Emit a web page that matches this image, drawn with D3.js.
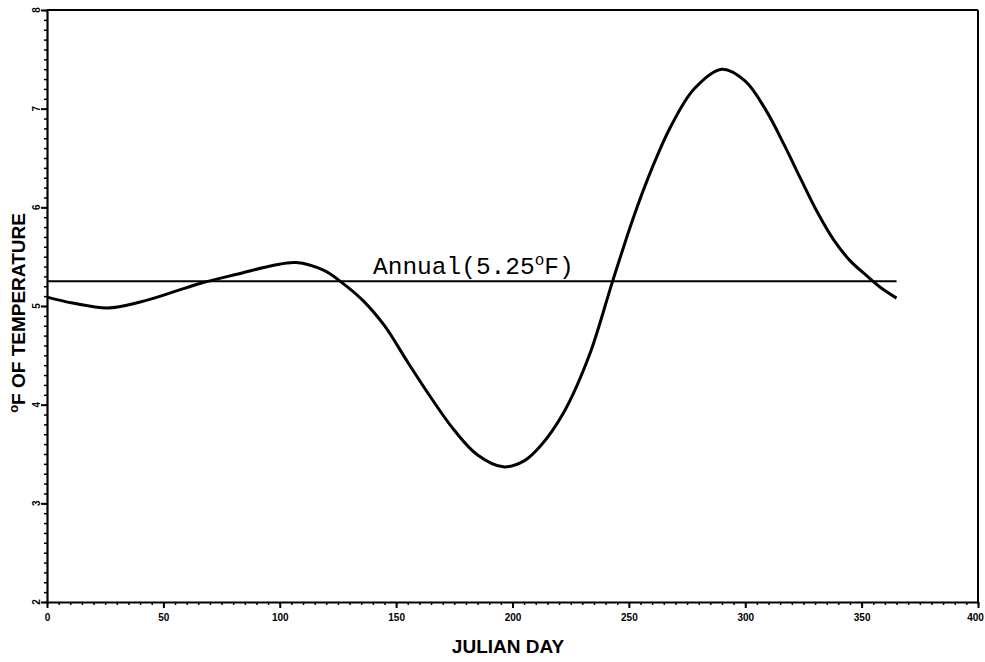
<!DOCTYPE html>
<html>
<head>
<meta charset="utf-8">
<script src="https://cdn.jsdelivr.net/npm/d3@7"></script>
<style>
  body { margin: 0; background: #fff; }
  svg { display: block; }
</style>
</head>
<body>
<div id="svgzone"></div>
<script>
// data
let days = [0, 11, 26, 40, 54, 66, 83, 97, 107, 119, 126, 136, 145, 155, 165, 175, 185, 196, 205, 212, 222, 233, 243, 252, 260, 268, 278, 290, 300, 309, 317, 324, 331, 338, 345, 352, 358, 365];
let temps = [5.09, 5.03, 4.98, 5.04, 5.14, 5.23, 5.33, 5.41, 5.44, 5.36, 5.25, 5.05, 4.80, 4.43, 4.07, 3.74, 3.49, 3.37, 3.43, 3.58, 3.92, 4.50, 5.25, 5.90, 6.40, 6.82, 7.20, 7.40, 7.28, 6.98, 6.62, 6.28, 5.95, 5.67, 5.46, 5.31, 5.19, 5.08];
let annualMean = 5.25;
let annualSpan = [0, 365];
let xTicks = [0, 50, 100, 150, 200, 250, 300, 350, 400];
let yTicks = [2, 3, 4, 5, 6, 7, 8];

// dimensions and margins
let margin = { top: 10, right: 7, bottom: 60, left: 47 },
    width = 985 - margin.left - margin.right,
    height = 662 - margin.top - margin.bottom;

let svg = d3.select("#svgzone")
    .append("svg")
    .attr("width", width + margin.left + margin.right)
    .attr("height", height + margin.top + margin.bottom)
    .append("g")
    .attr("transform", "translate(" + margin.left + "," + margin.top + ")");

let x = d3.scaleLinear().domain([0, 400]).range([0, width]);
let y = d3.scaleLinear().domain([2, 8]).range([height, 0]);

// minor ticks
svg.append("g")
    .attr("transform", "translate(0," + height + ")")
    .call(d3.axisBottom(x).tickValues(d3.range(0, 401, 5)).tickSize(3).tickFormat(""))
    .call(g => g.select(".domain").remove())
    .selectAll("line").attr("stroke-width", 1.5);
svg.append("g")
    .call(d3.axisLeft(y).tickValues(d3.range(20, 81, 1).map(d => d / 10)).tickSize(3).tickFormat(""))
    .call(g => g.select(".domain").remove())
    .selectAll("line").attr("stroke-width", 1.5);

// x axis
let xAxis = svg.append("g")
    .attr("transform", "translate(0," + height + ")")
    .call(d3.axisBottom(x).tickValues(xTicks).tickSize(6).tickSizeOuter(0).tickPadding(6));
xAxis.select(".domain").attr("stroke-width", 2.2);
xAxis.selectAll("line").attr("stroke-width", 2);
xAxis.selectAll("text")
    .style("font-family", "Liberation Sans, Arial, sans-serif")
    .style("font-weight", "bold")
    .style("font-size", "10px")
    .attr("dx", function (d) { return d === 400 ? -3 : 0; }); // keep the last label inside the window

// y axis
let yAxis = svg.append("g")
    .call(d3.axisLeft(y).tickValues(yTicks).tickSize(6).tickSizeOuter(0).tickFormat(""));
yAxis.select(".domain").attr("stroke-width", 2.2);
yAxis.selectAll("line").attr("stroke-width", 2);

// rotated y tick labels
svg.selectAll("yLabels")
    .data(yTicks)
    .enter()
    .append("text")
    .attr("transform", function (d) { return "translate(-11," + y(d) + ") rotate(-90)"; })
    .attr("text-anchor", "middle")
    .attr("dy", "0.35em")
    .style("font-family", "Liberation Sans, Arial, sans-serif")
    .style("font-weight", "bold")
    .style("font-size", "10px")
    .text(function (d) { return d; });

// top and right frame
svg.append("line")
    .attr("x1", 0).attr("x2", width).attr("y1", 0).attr("y2", 0)
    .attr("stroke", "black").attr("stroke-width", 1.8);
svg.append("line")
    .attr("x1", width).attr("x2", width).attr("y1", 0).attr("y2", height)
    .attr("stroke", "black").attr("stroke-width", 2);

// annual mean line
svg.append("line")
    .attr("x1", x(annualSpan[0])).attr("x2", x(annualSpan[1]))
    .attr("y1", y(annualMean)).attr("y2", y(annualMean))
    .attr("stroke", "black").attr("stroke-width", 2);

let annual = svg.append("text")
    .attr("x", 326)
    .attr("y", y(annualMean) - 7)
    .style("font-family", "Liberation Mono, monospace")
    .style("font-size", "24.5px");
annual.append("tspan").text("Annual(" + annualMean + "");
annual.append("tspan").attr("dy", -9).style("font-size", "16px").text("o");
annual.append("tspan").attr("dy", 9).text("F)");

// the curve
let pts = days.map(function (d, i) { return [d, temps[i]]; });
let line = d3.line()
    .x(function (d) { return x(d[0]); })
    .y(function (d) { return y(d[1]); })
    .curve(d3.curveCatmullRom.alpha(0.5));
svg.append("path")
    .datum(pts)
    .attr("d", line)
    .attr("fill", "none")
    .attr("stroke", "black")
    .attr("stroke-width", 3);

// axis titles
svg.append("text")
    .attr("x", 461)
    .attr("y", height + 51)
    .attr("text-anchor", "middle")
    .style("font-family", "Liberation Sans, Arial, sans-serif")
    .style("font-weight", "bold")
    .style("font-size", "19px")
    .text("JULIAN DAY");

let ytitle = svg.append("text")
    .attr("transform", "translate(-22," + (y(5) + 7) + ") rotate(-90)")
    .attr("text-anchor", "middle")
    .style("font-family", "Liberation Sans, Arial, sans-serif")
    .style("font-weight", "bold")
    .style("font-size", "19px");
ytitle.append("tspan").attr("dy", -7).style("font-size", "13px").text("o");
ytitle.append("tspan").attr("dy", 7).text("F OF TEMPERATURE");
</script>
</body>
</html>
